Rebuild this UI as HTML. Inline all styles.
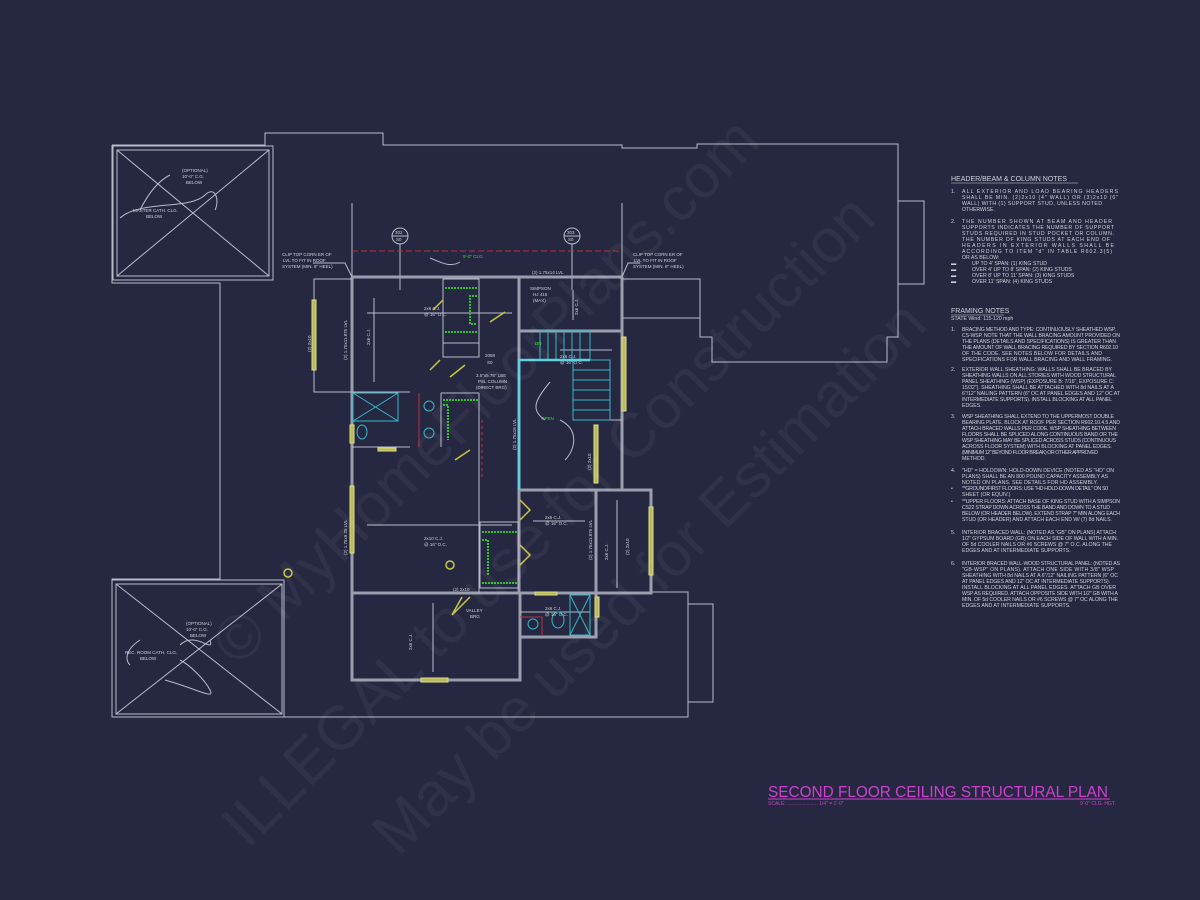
<!DOCTYPE html>
<html><head><meta charset="utf-8"><style>
html,body{margin:0;padding:0;background:#252840;}
svg{display:block}
text{font-family:"Liberation Sans",sans-serif;}
</style></head><body>
<svg width="1200" height="900" viewBox="0 0 1200 900" xmlns="http://www.w3.org/2000/svg">
<rect width="1200" height="900" fill="#252840"/>
<g fill="none" stroke="#b8bccb" stroke-width="1">
<polyline points="112,145 265,145 265,133 383,133 383,145 622,145 622,148 697,148 697,144 898,144 898,337 887,337 887,362 712,362 712,337 700,337 700,279 622,279"/>
<polyline points="898,201 924,201 924,284 898,284"/>
<line x1="622" y1="318" x2="700" y2="318"/>
<polyline points="112,145 112,283 220,283 220,579 112,579 112,717 688,717 688,592 651,592"/>
<polyline points="688,604 713,604 713,702 688,702"/>
<rect x="113" y="146" width="160" height="134"/>
<rect x="117" y="150" width="152" height="126"/>
<line x1="117" y1="150" x2="269" y2="276"/><line x1="269" y1="150" x2="117" y2="276"/>
<rect x="112" y="580" width="172" height="137"/>
<rect x="116" y="584" width="166" height="130"/>
<line x1="116" y1="584" x2="282" y2="714"/><line x1="282" y1="584" x2="116" y2="714"/>
<path d="M140,210 C150,190 160,180 170,175"/><path d="M120,218 C140,200 190,210 205,195 C215,185 220,200 215,210"/>
<path d="M140,640 C125,650 125,660 130,665"/><path d="M180,645 C195,630 215,655 210,640"/>
<path d="M165,680 C200,690 215,700 210,690 C205,680 190,665 180,660"/>
<line x1="352" y1="203" x2="352" y2="280"/><line x1="622" y1="203" x2="622" y2="280"/>
<circle cx="400" cy="236" r="8"/><line x1="392" y1="236" x2="408" y2="236"/>
<circle cx="572" cy="236" r="8"/><line x1="564" y1="236" x2="580" y2="236"/>
<line x1="400" y1="244" x2="400" y2="290"/><line x1="572" y1="244" x2="572" y2="290"/>
<polyline points="313,263 345,263 352,277"/><polyline points="640,263 628,263 622,277"/>
<path d="M430,258 C440,262 450,268 460,262"/>
</g>
<line x1="352" y1="251" x2="622" y2="251" stroke="#c03040" stroke-dasharray="6,3" stroke-width="1"/>
<g fill="none" stroke="#9a9eae" stroke-width="3">
<polyline points="352,277 622,277"/>
<polyline points="352,277 352,680 520,680 520,593"/>
<polyline points="352,593 651,593 651,490 519,490"/>
<line x1="519" y1="277" x2="519" y2="593"/>
<line x1="519" y1="331" x2="622" y2="331"/>
<line x1="622" y1="277" x2="622" y2="490"/>
<polyline points="520,637 596,637 596,490"/>
</g>
<g fill="none" stroke="#b8bccb" stroke-width="1">
<polyline points="352,279 314,279 314,392 352,392"/>
<rect x="443" y="279" width="36" height="64"/><rect x="443" y="343" width="36" height="14"/>
<line x1="352" y1="392" x2="410" y2="392"/><line x1="441" y1="393" x2="479" y2="393"/>
<line x1="352" y1="447" x2="410" y2="447"/><line x1="419" y1="393" x2="419" y2="447"/>
<line x1="441" y1="393" x2="441" y2="447"/><line x1="479" y1="393" x2="479" y2="593"/>
<rect x="480" y="522" width="38" height="66"/>
<line x1="596" y1="420" x2="622" y2="420"/>
<line x1="374" y1="298" x2="374" y2="382"/><line x1="367" y1="313" x2="512" y2="313"/>
<line x1="367" y1="525" x2="512" y2="525"/><line x1="533" y1="521" x2="585" y2="521"/>
<line x1="560" y1="350" x2="612" y2="350"/><line x1="433" y1="603" x2="433" y2="672"/>
<line x1="617" y1="500" x2="617" y2="588"/><line x1="520" y1="612" x2="590" y2="612"/>
<line x1="573" y1="290" x2="573" y2="320"/>
<path d="M550,382 C535,400 530,410 545,420"/><path d="M560,420 C580,430 575,450 565,460"/>
</g>
<g fill="none" stroke="#35b8c8" stroke-width="1">
<rect x="540" y="331" width="50" height="29"/>
<path d="M548,331v29M556,331v29M564,331v29M572,331v29M580,331v29"/>
<rect x="573" y="360" width="37" height="60"/>
<path d="M573,370h37M573,380h37M573,390h37M573,400h37M573,410h37"/>
<rect x="353" y="393" width="45" height="28"/><line x1="353" y1="393" x2="398" y2="421"/><line x1="398" y1="393" x2="353" y2="421"/>
<circle cx="429" cy="406" r="5"/><circle cx="429" cy="433" r="5"/>
<ellipse cx="362" cy="432" rx="5" ry="7"/>
<circle cx="533" cy="624" r="5"/><ellipse cx="558" cy="620" rx="6" ry="8"/>
<rect x="570" y="595" width="20" height="40"/><line x1="570" y1="595" x2="590" y2="635"/><line x1="590" y1="595" x2="570" y2="635"/>
</g>
<polyline points="519,490 519,360 590,360" fill="none" stroke="#5fd0e0" stroke-width="2.5"/>
<g fill="none" stroke="#30c030" stroke-width="2" stroke-dasharray="2,1">
<line x1="445" y1="288" x2="477" y2="288"/><line x1="445" y1="332" x2="477" y2="332"/>
<polyline points="477,296 470,296 470,324 477,324"/>
<line x1="443" y1="400" x2="478" y2="400"/><polyline points="443,405 448,405 448,440"/>
<line x1="482" y1="532" x2="517" y2="532"/><line x1="482" y1="583" x2="517" y2="583"/><polyline points="482,540 488,540 488,575"/>
</g>
<g fill="none" stroke="#c8c840" stroke-width="1.5">
<path d="M433,310 L443,300"/><path d="M490,322 L505,312"/><path d="M430,370 L440,360"/><path d="M450,377 L465,365"/>
<path d="M455,460 L470,450"/><path d="M520,500 L530,510 L520,520"/><path d="M520,545 L530,555 L520,565"/>
<path d="M462,597 L452,615 L470,597"/><circle cx="450" cy="565" r="4"/><circle cx="288" cy="573" r="4"/>
</g>
<g fill="#b8b860" stroke="#dede80" stroke-width="1">
<rect x="312" y="300" width="4" height="70"/><rect x="350" y="486" width="4" height="67"/>
<rect x="622" y="337" width="4" height="74"/><rect x="594" y="425" width="4" height="58"/>
<rect x="649" y="507" width="4" height="68"/><rect x="421" y="678" width="27" height="4"/>
<rect x="350" y="425" width="4" height="18"/><rect x="595" y="597" width="4" height="20"/>
<rect x="378" y="448" width="18" height="3"/><rect x="535" y="592" width="22" height="3"/>
</g>
<line x1="482" y1="420" x2="482" y2="480" stroke="#c03040" stroke-dasharray="3,3"/>
<line x1="419" y1="393" x2="419" y2="447" stroke="#c03040"/>
<polyline points="520,617 542,617 542,635" fill="none" stroke="#c03040"/>
<g fill="#d0d2dc" font-size="4.5">
<text x="182" y="172">(OPTIONAL)</text><text x="182" y="178">10'-0" C.G.</text><text x="186" y="184">BELOW</text>
<text x="133" y="212">MASTER CATH. CLG.</text><text x="146" y="218">BELOW</text>
<text x="186" y="625">(OPTIONAL)</text><text x="186" y="631">10'-0" C.G.</text><text x="190" y="637">BELOW</text>
<text x="125" y="654">REC. ROOM CATH. CLG.</text><text x="140" y="660">BELOW</text>
<text x="282" y="256">CLIP TOP CORN ER OF</text><text x="283" y="262">LVL TO FIT IN ROOF</text><text x="282" y="268">SYSTEM (MIN. 8" HEEL)</text>
<text x="633" y="256">CLIP TOP CORN ER OF</text><text x="634" y="262">LVL TO FIT IN ROOF</text><text x="633" y="268">SYSTEM (MIN. 8" HEEL)</text>
<text x="395" y="234">302</text><text x="396" y="241">S0</text><text x="567" y="234">303</text><text x="568" y="241">S0</text>
<text x="532" y="274">(2) 1.75x14 LVL</text>
<text x="530" y="290">SIMPSON</text><text x="533" y="296">HJ 416</text><text x="533" y="302">(MAX)</text>
<text x="424" y="310">2x6 C.J.</text><text x="424" y="316">@ 16" O.C.</text>
<text x="476" y="377">3.5"x5.75" LBE</text><text x="478" y="383">PSL COLUMN</text><text x="476" y="389">(DIRECT BRG)</text>
<text x="485" y="357">2058</text><text x="487" y="364">S0</text>
<text x="560" y="358">2x6 C.J.</text><text x="560" y="364">@ 16" O.C.</text>
<text x="424" y="540">2x10 C.J.</text><text x="424" y="546">@ 16" O.C.</text>
<text x="545" y="519">2x6 C.J.</text><text x="545" y="525">@ 16" O.C.</text>
<text x="545" y="610">2x6 C.J.</text><text x="545" y="616">@ 16" O.C.</text>
<text x="453" y="591">(2) 2x10</text><text x="466" y="612">VALLEY</text><text x="470" y="618">BRG</text>
</g>
<g fill="#30e030" font-size="4.5"><text x="463" y="258">9'-0" CLG.</text><text x="541" y="420">OPEN</text><text x="535" y="345">DN</text></g>
<g fill="#d0d2dc" font-size="4.5">
<text transform="translate(311,352) rotate(-90)">(2) 2x10</text>
<text transform="translate(347,360) rotate(-90)">(2) 1.75x11.875 LVL</text>
<text transform="translate(347,555) rotate(-90)">(2) 1.75x9.25 LVL</text>
<text transform="translate(516,450) rotate(-90)">(2) 1.75x16 LVL</text>
<text transform="translate(592,560) rotate(-90)">(2) 1.75x11.875 LVL</text>
<text transform="translate(629,555) rotate(-90)">(2) 2x10</text>
<text transform="translate(591,470) rotate(-90)">(2) 2x10</text>
<text transform="translate(578,315) rotate(-90)">2x6 C.J.</text>
<text transform="translate(608,560) rotate(-90)">2x6 C.J.</text>
<text transform="translate(412,650) rotate(-90)">2x6 C.J.</text>
<text transform="translate(370,345) rotate(-90)">2x6 C.J.</text>
</g>
<g fill="#d0d2dc" font-size="5.2">
<text x="951" y="181" font-size="7">HEADER/BEAM &amp; COLUMN NOTES</text>
<line x1="951" y1="183" x2="1078" y2="183" stroke="#d0d2dc" stroke-width="0.5"/>
<text x="951" y="193">1.</text>
<text x="962" y="193" textLength="156">ALL EXTERIOR AND LOAD BEARING HEADERS</text>
<text x="962" y="199" textLength="156">SHALL BE MIN. (2)2x10 (4" WALL) OR (3)2x10 (6"</text>
<text x="962" y="205" textLength="140">WALL) WITH (1) SUPPORT STUD, UNLESS NOTED</text>
<text x="962" y="211">OTHERWISE.</text>
<text x="951" y="223">2.</text>
<text x="962" y="223" textLength="150">THE NUMBER SHOWN AT BEAM AND HEADER</text>
<text x="962" y="229" textLength="152">SUPPORTS INDICATES THE NUMBER OF SUPPORT</text>
<text x="962" y="235" textLength="152">STUDS REQUIRED IN STUD POCKET OR COLUMN.</text>
<text x="962" y="241" textLength="148">THE NUMBER OF KING STUDS AT EACH END OF</text>
<text x="962" y="247" textLength="152">HEADERS IN EXTERIOR WALLS SHALL BE</text>
<text x="962" y="253" textLength="150">ACCORDING TO ITEM "d" IN TABLE R602.3(5)</text>
<text x="962" y="259">OR AS BELOW:</text>
<text x="951" y="265">▬</text><text x="972" y="265">UP TO 4' SPAN: (1) KING STUD</text>
<text x="951" y="271">▬</text><text x="972" y="271">OVER 4' UP TO 8' SPAN: (2) KING STUDS</text>
<text x="951" y="277">▬</text><text x="972" y="277">OVER 8' UP TO 11' SPAN: (3) KING STUDS</text>
<text x="951" y="283">▬</text><text x="972" y="283">OVER 11' SPAN: (4) KING STUDS</text>
<text x="951" y="313" font-size="7">FRAMING NOTES</text>
<line x1="951" y1="315" x2="1004" y2="315" stroke="#d0d2dc" stroke-width="0.5"/>
<text x="951" y="320">STATE Wind: 115-120 mph</text>
<text x="951" y="331">1.</text>
<text x="962" y="331" textLength="154">BRACING METHOD AND TYPE: CONTINUOUSLY SHEATHED WSP,</text>
<text x="962" y="337" textLength="158">CS-WSP. NOTE THAT THE WALL BRACING AMOUNT PROVIDED ON</text>
<text x="962" y="343" textLength="154">THE PLANS (DETAILS AND SPECIFICATIONS) IS GREATER THAN</text>
<text x="962" y="349" textLength="156">THE AMOUNT OF WALL BRACING REQUIRED BY SECTION R602.10</text>
<text x="962" y="355" textLength="140">OF THE CODE. SEE NOTES BELOW FOR DETAILS AND</text>
<text x="962" y="361" textLength="150">SPECIFICATIONS FOR WALL BRACING AND WALL FRAMING.</text>
<text x="951" y="371">2.</text>
<text x="962" y="371" textLength="150">EXTERIOR WALL SHEATHING: WALLS SHALL BE BRACED BY</text>
<text x="962" y="377" textLength="154">SHEATHING WALLS ON ALL STORIES WITH WOOD STRUCTURAL</text>
<text x="962" y="383" textLength="152">PANEL SHEATHING (WSP) (EXPOSURE B: 7/16", EXPOSURE C:</text>
<text x="962" y="389" textLength="152">15/32"). SHEATHING SHALL BE ATTACHED WITH 8d NAILS AT A</text>
<text x="962" y="395" textLength="158">6"/12" NAILING PATTERN (6" OC AT PANEL EDGES AND 12" OC AT</text>
<text x="962" y="401" textLength="150">INTERMEDIATE SUPPORTS). INSTALL BLOCKING AT ALL PANEL</text>
<text x="962" y="407">EDGES.</text>
<text x="951" y="418">3.</text>
<text x="962" y="418" textLength="152">WSP SHEATHING SHALL EXTEND TO THE UPPERMOST DOUBLE</text>
<text x="962" y="424" textLength="158">BEARING PLATE. BLOCK AT ROOF PER SECTION R602.10.4.5 AND</text>
<text x="962" y="430" textLength="154">ATTACH BRACED WALLS PER CODE. WSP SHEATHING BETWEEN</text>
<text x="962" y="436" textLength="156">FLOORS SHALL BE SPLICED ALONG CONTINUOUS BAND OR THE</text>
<text x="962" y="442" textLength="154">WSP SHEATHING MAY BE SPLICED ACROSS STUDS (CONTINUOUS</text>
<text x="962" y="448" textLength="150">ACROSS FLOOR SYSTEM) WITH BLOCKING AT PANEL EDGES.</text>
<text x="962" y="454" textLength="136">(MINIMUM 12" BEYOND FLOOR BREAK) OR OTHER APPROVED</text>
<text x="962" y="460">METHOD.</text>
<text x="951" y="472">4.</text>
<text x="962" y="472" textLength="152">"HD" = HOLDOWN: HOLD-DOWN DEVICE (NOTED AS "HD" ON</text>
<text x="962" y="478" textLength="146">PLANS) SHALL BE AN 800 POUND CAPACITY ASSEMBLY AS</text>
<text x="962" y="484" textLength="136">NOTED ON PLANS. SEE DETAILS FOR HD ASSEMBLY.</text>
<text x="951" y="490">•</text><text x="962" y="490" textLength="146">**GROUND/FIRST FLOORS: USE "HD HOLD-DOWN DETAIL" ON S0</text>
<text x="962" y="496">SHEET (OR EQUIV.)</text>
<text x="951" y="503">•</text><text x="962" y="503" textLength="158">**UPPER FLOORS: ATTACH BASE OF KING STUD WITH A SIMPSON</text>
<text x="962" y="509" textLength="148">CS22 STRAP DOWN ACROSS THE BAND AND DOWN TO A STUD</text>
<text x="962" y="515" textLength="158">BELOW (OR HEADER BELOW). EXTEND STRAP 7" MIN ALONG EACH</text>
<text x="962" y="521" textLength="150">STUD (OR HEADER) AND ATTACH EACH END W/ (7) 8d NAILS.</text>
<text x="951" y="534">5.</text>
<text x="962" y="534" textLength="154">INTERIOR BRACED WALL: (NOTED AS "GB" ON PLANS) ATTACH</text>
<text x="962" y="540" textLength="156">1/2" GYPSUM BOARD (GB) ON EACH SIDE OF WALL WITH A MIN.</text>
<text x="962" y="546" textLength="150">OF 5d COOLER NAILS OR #6 SCREWS @ 7" O.C. ALONG THE</text>
<text x="962" y="552">EDGES AND AT INTERMEDIATE SUPPORTS.</text>
<text x="951" y="565">6.</text>
<text x="962" y="565" textLength="158">INTERIOR BRACED WALL-WOOD STRUCTURAL PANEL: (NOTED AS</text>
<text x="962" y="571" textLength="152">"GB-WSP" ON PLANS). ATTACH ONE SIDE WITH 3/8" WSP</text>
<text x="962" y="577" textLength="156">SHEATHING WITH 8d NAILS AT A 6"/12" NAILING PATTERN (6" OC</text>
<text x="962" y="583" textLength="148">AT PANEL EDGES AND 12" OC AT INTERMEDIATE SUPPORTS).</text>
<text x="962" y="589" textLength="154">INSTALL BLOCKING AT ALL PANEL EDGES. ATTACH GB OVER</text>
<text x="962" y="595" textLength="156">WSP AS REQUIRED. ATTACH OPPOSITE SIDE WITH 1/2" GB WITH A</text>
<text x="962" y="601" textLength="156">MIN. OF 5d COOLER NAILS OR #6 SCREWS @ 7" OC ALONG THE</text>
<text x="962" y="607">EDGES AND AT INTERMEDIATE SUPPORTS.</text>
</g>
<text x="768" y="797" fill="#d040d0" font-size="16" textLength="340" lengthAdjust="spacingAndGlyphs">SECOND FLOOR CEILING STRUCTURAL PLAN</text>
<line x1="768" y1="799" x2="1110" y2="799" stroke="#d040d0" stroke-width="1"/>
<text x="768" y="805" fill="#d040d0" font-size="5">SCALE: ...................... 1/4" = 1'-0"</text>
<text x="1080" y="805" fill="#d040d0" font-size="5">9'-0" CLG. HGT.</text>
<g fill="#ffffff" fill-opacity="0.05" font-family="Liberation Serif,serif" font-size="62">
<text transform="translate(238,668) rotate(-45)">© MyHomeFloorPlans.com</text>
<text transform="translate(248,850) rotate(-45)">ILLEGAL to use for Construction</text>
<text transform="translate(398,858) rotate(-45)">May be used for Estimation</text>
</g>
</svg>
</body></html>
